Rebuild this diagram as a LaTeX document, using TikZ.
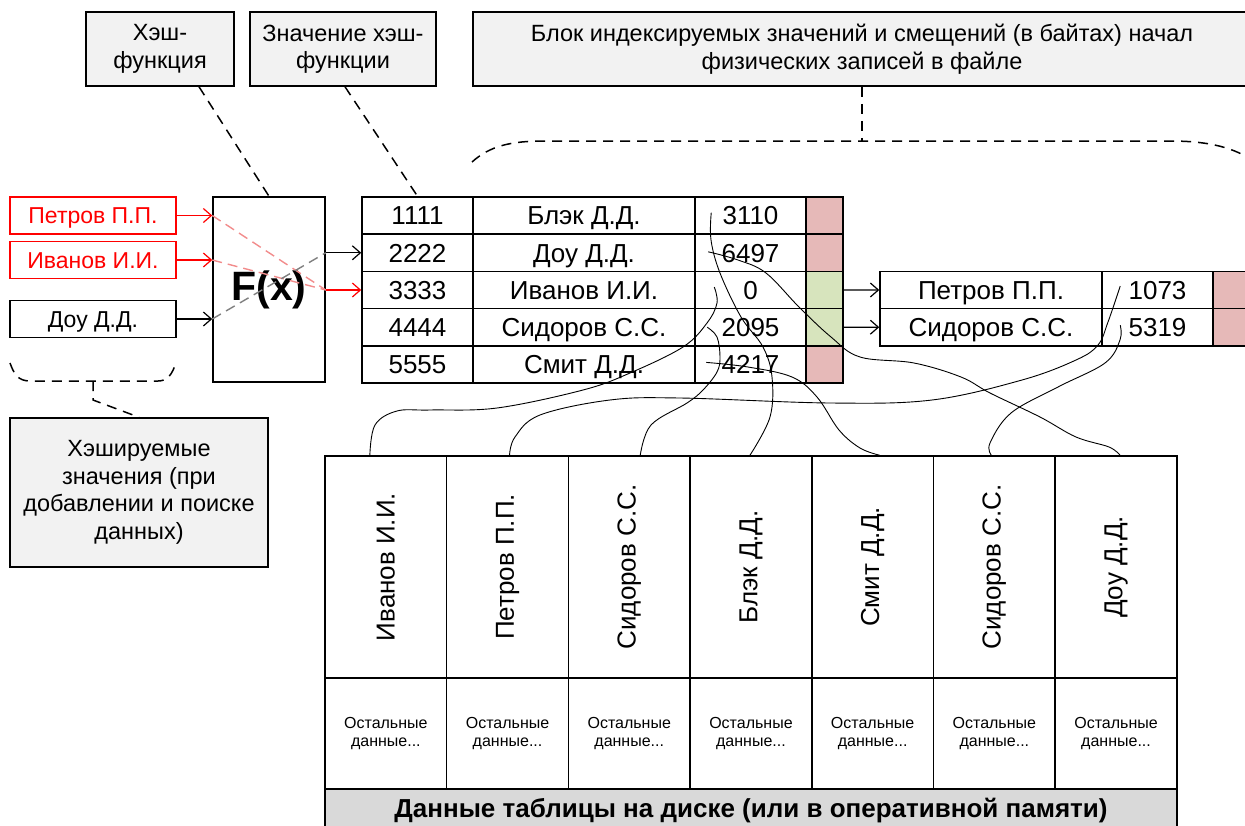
\documentclass[tikz,border=0pt]{standalone}
\usepackage{fontspec}
\setmainfont{Liberation Sans}
\usetikzlibrary{arrows.meta,calc}
\definecolor{pinkcell}{HTML}{E6B9B8}
\definecolor{greencell}{HTML}{D7E4BD}
\definecolor{notegray}{HTML}{F2F2F2}
\definecolor{footgray}{HTML}{D9D9D9}
\definecolor{lightred}{HTML}{F28C8C}

\begin{document}
\begin{tikzpicture}[
  x=1pt, y=1pt,
  cell/.style={draw, line width=1.5pt, inner sep=0pt, minimum height=37.2pt,
               text height=18.6pt, text depth=0pt,
               font=\fontsize{26}{30}\selectfont},
  note/.style={draw, line width=1.5pt, fill=notegray, inner sep=2pt,
               align=center, font=\fontsize{23.5}{27.5}\selectfont},
  arrow/.style={-{Straight Barb[length=8pt,width=14pt]}, line width=1.2pt},
  lead/.style={line width=1.5pt, dash pattern=on 10pt off 7pt},
  hashline/.style={line width=1.4pt, dash pattern=on 10pt off 6pt},
  link/.style={line width=0.9pt, line join=round}
]
\useasboundingbox (0,0) rectangle (1245,-825);
\clip (0,0) rectangle (1245,-825);

%% Notes on top
\node[note, minimum width=148pt, minimum height=74pt] (hf) at (160,-49) {Хэш-\\функция};
\node[note, minimum width=186pt, minimum height=74pt] (hv) at (343,-49) {Значение хэш-\\функции};
\node[note, minimum width=778pt, minimum height=74pt] (blk) at (862,-49)
  {Блок индексируемых значений и смещений (в байтах) начал\\физических записей в файле};

%% Hashed values
\node[cell, draw=red, text=red, font=\fontsize{23}{26}\selectfont, text height=16.5pt,
      minimum width=166pt, minimum height=37pt] (in1) at (93,-215.5) {Петров П.П.};
\node[cell, draw=red, text=red, font=\fontsize{23}{26}\selectfont, text height=16.5pt,
      minimum width=166pt, minimum height=37pt] (in2) at (93,-260) {Иванов И.И.};
\node[cell, font=\fontsize{23}{26}\selectfont, text height=16.5pt,
      minimum width=166pt, minimum height=37pt] (in3) at (93,-319) {Доу Д.Д.};
\node[note, minimum width=258pt, minimum height=149pt] (hsh) at (139,-492.5)
  {Хэшируемые\\значения (при\\добавлении и поиске\\данных)};

%% Hash function
\node[draw, line width=1.5pt, minimum width=112pt, minimum height=185pt,
      font=\fontsize{41}{44}\selectfont\bfseries] (fx) at (269,-289.5) {F(x)};

%% Index block
\foreach \i/\k/\nm/\off/\clr in {1/1111/Блэк Д.Д./3110/pinkcell,2/2222/Доу Д.Д./6497/pinkcell,
    3/3333/Иванов И.И./0/greencell,4/4444/Сидоров С.С./2095/greencell,5/5555/Смит Д.Д./4217/pinkcell}{
  \node[cell, minimum width=111pt] (key\i) at (417.5,{-197-37.2*(\i-0.5)}) {\k};
  \node[cell, minimum width=222pt] (name\i) at (584,{-197-37.2*(\i-0.5)}) {\nm};
  \node[cell, minimum width=111pt] (off\i) at (750.5,{-197-37.2*(\i-0.5)}) {\off};
  \node[cell, fill=\clr, minimum width=37pt] (flag\i) at (824.5,{-197-37.2*(\i-0.5)}) {};
}

%% Collisions
\node[cell, minimum width=222pt] (rname1) at (991,-290) {Петров П.П.};
\node[cell, minimum width=111pt] (roff1) at (1157.5,-290) {1073};
\node[cell, fill=pinkcell, minimum width=40pt] (rflag1) at (1233,-290) {};
\node[cell, minimum width=222pt] (rname2) at (991,-327.2) {Сидоров С.С.};
\node[cell, minimum width=111pt] (roff2) at (1157.5,-327.2) {5319};
\node[cell, fill=pinkcell, minimum width=40pt] (rflag2) at (1233,-327.2) {};

%% Table data
\foreach \i/\nm in {1/Иванов И.И.,2/Петров П.П.,3/Сидоров С.С.,4/Блэк Д.Д.,
    5/Смит Д.Д.,6/Сидоров С.С.,7/Доу Д.Д.}{
  \node[cell, minimum width=121.7pt, minimum height=222pt, text height=, text depth=] (col\i)
    at ({325+121.7*(\i-0.5)},-567) {\rotatebox{90}{\nm}};
  \node[cell, minimum width=121.7pt, minimum height=111pt, align=center, text height=, text depth=,
        font=\fontsize{16}{18.5}\selectfont] (rest\i)
    at ({325+121.7*(\i-0.5)},-733.5) {Остальные\\данные...};
}
\node[cell, fill=footgray, minimum width=852pt, minimum height=39pt,
      font=\fontsize{26}{28}\selectfont\bfseries] (foot) at (751,-808.5)
  {Данные таблицы на диске (или в оперативной памяти)};

%% Arrows
\coordinate (fo1) at (fx.east |- key2.west);
\coordinate (fo2) at (fx.east |- key3.west);
\draw[arrow, red] (in1.east) -- (in1.east -| fx.west);
\draw[arrow, red] (in2.east) -- (in2.east -| fx.west);
\draw[arrow] (in3.east) -- (in3.east -| fx.west);
\draw[hashline, lightred] (in1.east -| fx.west) -- (fo2);
\draw[hashline, lightred] (in2.east -| fx.west) -- (fo2);
\draw[hashline, gray] (in3.east -| fx.west) -- (fo1);
\draw[arrow] (fo1) -- (key2.west);
\draw[arrow, red] (fo2) -- (key3.west);
\draw[arrow] (flag3.east) -- (rname1.west);
\draw[arrow] (flag4.east) -- (rname2.west);

%% Leaders
\coordinate (brace) at (862,-141);
\coordinate (lbrace) at (93,-381);
\draw[lead] ($(hf.south)+(39,0)$) -- (fx.north);
\draw[lead] ($(hv.south)+(2,0)$) -- (key1.north);
\draw[lead] (blk.south) -- (brace);
\draw[lead] (472,-162) .. controls (490,-146) and (510,-141) .. (545,-141) -- (1170,-141)
  .. controls (1210,-141) and (1235,-148) .. (1255,-162);
\draw[lead] (10,-363) .. controls (14,-374) and (18,-381) .. (30,-381) -- (158,-381)
  .. controls (168,-381) and (172,-374) .. (176,-363);
\draw[lead] (lbrace) -- (93,-400) -- (hsh.north);

%% Offsets to records
\draw[link] plot[smooth, tension=0.6] coordinates {($(off3.west)+(20,3)$) (717,-303) (707,-323)
  (683,-347) (630,-373) (583,-390) (497,-408) (430,-410) (397,-411) (375,-425) ($(col1.north)+(-16,0)$)};
\draw[link] plot[smooth, tension=0.6] coordinates {($(roff1.west)+(19,4)$) (1108,-322) (1098,-345)
  (1076,-360) (1022,-380) (932,-400) (830,-403) (680,-398) (610,-400) (540,-415) (515,-437)
  ($(col2.north)+(2,0)$)};
\draw[link] plot[smooth, tension=0.6] coordinates {($(off4.west)+(13,0)$) (717,-337) (720,-357)
  (717,-372) (703,-390) (687,-403) (651,-425) ($(col3.north)+(11,0)$)};
\draw[link] plot[smooth, tension=0.6] coordinates {($(off1.west)+(17,3)$) (711,-240) (720,-273)
  (741,-317) (763,-347) (772,-377) (770,-417) ($(col4.north)+(-1,0)$)};
\draw[link] plot[smooth, tension=0.6] coordinates {($(off5.west)+(12,2)$) (748,-367) (792,-377)
  (817,-397) (839,-430) (860,-448) ($(col5.north)+(7,0)$)};
\draw[link] plot[smooth, tension=0.6] coordinates {($(roff2.west)+(19,2)$) (1120,-340) (1105,-363)
  (1058,-387) (1011,-413) (990,-443) ($(col6.north)+(-3,0)$)};
\draw[link] plot[smooth, tension=0.6] coordinates {($(off2.west)+(14,1)$) (738,-260) (766,-273)
  (799,-307) (831,-337) (860,-357) (914,-363) (961,-377) (990,-393) (1040,-417) (1076,-437)
  (1109,-447) ($(col7.north)+(4,0)$)};

\end{tikzpicture}
\end{document}
